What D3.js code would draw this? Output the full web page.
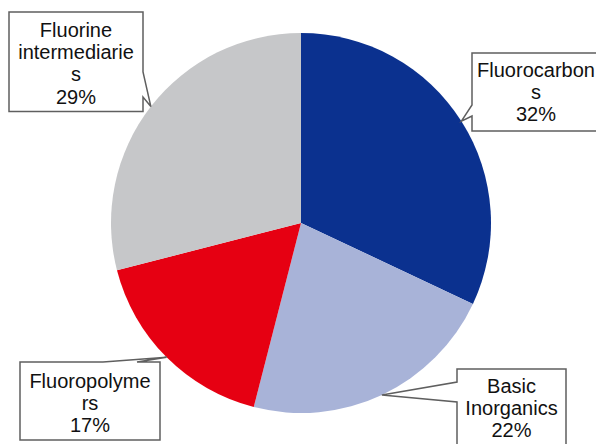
<!DOCTYPE html>
<html>
<head>
<meta charset="utf-8">
<script src="https://cdn.jsdelivr.net/npm/d3@7/dist/d3.min.js"></script>
<style>
  html, body { margin: 0; padding: 0; background: #fff; }
  svg { display: block; }
  text { font-family: Arial, "Liberation Sans", sans-serif; }
</style>
</head>
<body>
<svg id="chart" width="596" height="444"></svg>
<script>
// Segment shares of the fluorine chemicals market (%)
const categories = ["Fluorocarbons", "Basic Inorganics", "Fluoropolymers", "Fluorine intermediaries"];
const shares = [32, 22, 17, 29];
// Label text as it wraps inside each callout box
const labelLines = [
  ["Fluorocarbon", "s"],
  ["Basic", "Inorganics"],
  ["Fluoropolyme", "rs"],
  ["Fluorine", "intermediarie", "s"]
];
const colors = ["#0b318f", "#a8b3d8", "#e60012", "#c6c7c9"];

const W = 596, H = 444;
const cx = 301, cy = 223, R = 190;

const svg = d3.select("#chart");
const g = svg.append("g").attr("transform", `translate(${cx},${cy})`);

const data = categories.map((c, i) => ({ name: c, value: shares[i], lines: labelLines[i], color: colors[i] }));

const pie = d3.pie().sort(null).value(d => d.value);
const arcs = pie(data);
const arc = d3.arc().innerRadius(0).outerRadius(R);
const edgeArc = d3.arc().innerRadius(R).outerRadius(R);

g.selectAll("path.slice")
  .data(arcs)
  .join("path")
  .attr("class", "slice")
  .attr("d", arc)
  .attr("fill", d => d.data.color);

// Callout boxes: rectangle, the side carrying the pointer and the pointer's base span
const boxes = [
  { x: 472, y: 53,  w: 130, h: 78,  side: "left",  a: 105, b: 116, tx: 536, ty: 77 },
  { x: 457, y: 369, w: 109, h: 90,  side: "left",  a: 382, b: 402, tx: 511.5, ty: 393 },
  { x: 20,  y: 362, w: 140, h: 78,  side: "top",   a: 103, b: 137, tx: 90, ty: 388 },
  { x: 9,   y: 12,  w: 134, h: 99.5, side: "right", a: 72,  b: 97,  tx: 76, ty: 37 }
];
const lineH = 22.2;

function calloutPath(bx, tip) {
  const x0 = bx.x, y0 = bx.y, x1 = bx.x + bx.w, y1 = bx.y + bx.h;
  const p = d3.path();
  p.moveTo(x0, y0);
  if (bx.side === "top") { p.lineTo(bx.a, y0); p.lineTo(tip[0], tip[1]); p.lineTo(bx.b, y0); }
  p.lineTo(x1, y0);
  if (bx.side === "right") { p.lineTo(x1, bx.a); p.lineTo(tip[0], tip[1]); p.lineTo(x1, bx.b); }
  p.lineTo(x1, y1);
  p.lineTo(x0, y1);
  if (bx.side === "left") { p.lineTo(x0, bx.b); p.lineTo(tip[0], tip[1]); p.lineTo(x0, bx.a); }
  p.closePath();
  return p.toString();
}

const labels = svg.append("g");
arcs.forEach((d, i) => {
  const bx = boxes[i];
  const c = edgeArc.centroid(d);
  const tip = [cx + c[0], cy + c[1]];
  labels.append("path")
    .attr("d", calloutPath(bx, tip))
    .attr("fill", "#fff")
    .attr("stroke", "#5f5f5f")
    .attr("stroke-width", 1.5)
    .attr("stroke-linejoin", "miter");
  const lines = d.data.lines.concat([d.data.value + "%"]);
  const t = labels.append("text")
    .attr("text-anchor", "middle")
    .attr("font-size", 20)
    .attr("fill", "#111");
  lines.forEach((ln, k) => {
    t.append("tspan").attr("x", bx.tx).attr("y", bx.ty + k * lineH).text(ln);
  });
});
</script>
</body>
</html>
